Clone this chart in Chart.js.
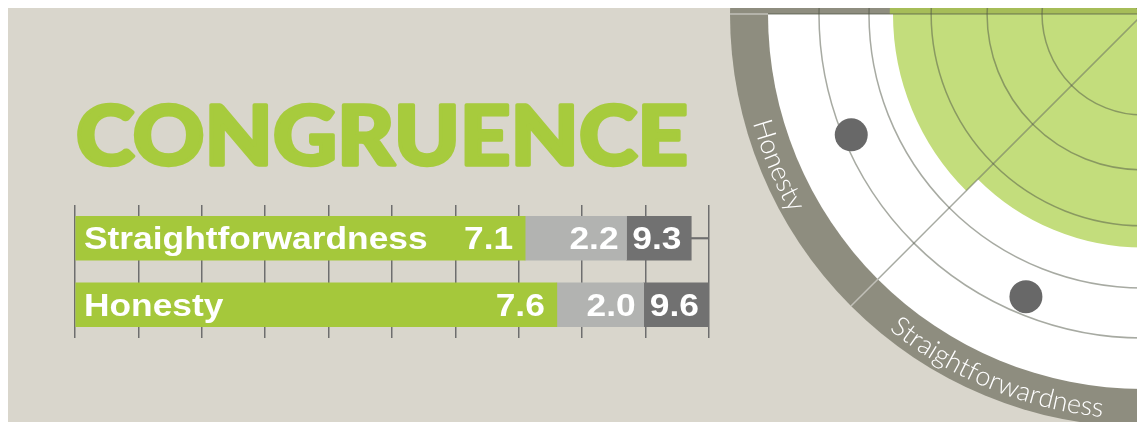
<!DOCTYPE html>
<html><head><meta charset="utf-8">
<script src="https://cdn.jsdelivr.net/npm/chart.js@4.4.1/dist/chart.umd.min.js"></script>
<style>
html,body{margin:0;padding:0;background:#fff;width:1137px;height:422px;overflow:hidden}
#wrap{position:absolute;left:8px;top:8px;width:1129px;height:414px;background:#d9d6cc;overflow:hidden}
#bars{position:absolute;left:0;top:0}
#radar{position:absolute;left:720px;top:-409px}
</style></head><body>
<div id="wrap"><canvas id="bars" width="712" height="414"></canvas><canvas id="radar" width="830" height="830"></canvas></div>
<script>
/* ===== DATA ===== */
const TITLE='CONGRUENCE';
const traits=['Straightforwardness','Honesty'];
const greenScore=[7.1,7.6];
const grayScore=[2.2,2.0];
const totalScore=[9.3,9.6];
// ends of the gray segment and of the dark total box, as drawn on the 0-10 axis
const grayEnd=[8.7,8.97];
const boxEnd=[9.72,10];

const radarLabels=['','','','','Straightforwardness','Honesty','',''];
const radarGreen=[0,0,0,0,7.1,7.6,7.7,0];
const radarDots=[null,null,null,null,9.3,9.6,null,null];
const radarRings=[0,3.07,4.74,6.44,8.33,9.85];

/* ===== STYLE ===== */
const C={title:'#a7cb3d',green:'#a5c83b',lgray:'#b2b3b1',dgray:'#717171',grid:'#6e6e6e',
  ring:'#8e8d7f',radar:'#c3dd7c',radarDark:'#a6bd58',rgrid:'rgba(80,85,70,0.5)',dot:'#686868'};
const RING_W=38;
const LABEL_FONT='bold 31px "Liberation Sans", Arial, sans-serif';
const STRETCH=1.14;

function wideText(ctx,s,px,py,align){
  ctx.save();
  ctx.translate(px,py);ctx.scale(STRETCH,1);
  ctx.textAlign=align;ctx.fillText(s,0,0);
  ctx.restore();
}

/* ===== BAR CHART ===== */
const barLabels={
  id:'barLabels',
  afterDatasetsDraw(chart){
    const {ctx,scales:{x,y}}=chart;
    ctx.save();
    ctx.fillStyle='#fff';ctx.font=LABEL_FONT;ctx.textBaseline='alphabetic';
    traits.forEach((t,i)=>{
      const yc=y.getPixelForValue(i)+11;
      wideText(ctx,t,x.getPixelForValue(0)+9,yc,'left');
      wideText(ctx,greenScore[i].toFixed(1),x.getPixelForValue(greenScore[i])-12,yc,'right');
      wideText(ctx,grayScore[i].toFixed(1),x.getPixelForValue(grayEnd[i])-8,yc,'right');
      wideText(ctx,totalScore[i].toFixed(1),(x.getPixelForValue(grayEnd[i])+x.getPixelForValue(boxEnd[i]))/2-2,yc,'center');
    });
    ctx.restore();
  }
};

const bigTitle={
  id:'bigTitle',
  afterDraw(chart){
    const {ctx,chartArea}=chart;
    ctx.save();
    ctx.font='900 82px Lato, "DejaVu Sans", sans-serif';
    const w=ctx.measureText(TITLE).width;
    ctx.translate(chartArea.left+1,chartArea.top-40);
    ctx.scale(612/w,1);
    ctx.fillStyle=C.title;ctx.strokeStyle=C.title;
    ctx.lineWidth=3.5;ctx.lineJoin='round';
    ctx.fillText(TITLE,0,0);
    ctx.strokeText(TITLE,0,0);
    ctx.restore();
  }
};

new Chart(document.getElementById('bars'),{
  type:'bar',
  data:{
    labels:traits,
    datasets:[
      {data:traits.map((_,i)=>[0,greenScore[i]]),backgroundColor:C.green},
      {data:traits.map((_,i)=>[greenScore[i],grayEnd[i]]),backgroundColor:C.lgray},
      {data:traits.map((_,i)=>[grayEnd[i],boxEnd[i]]),backgroundColor:C.dgray},
      {data:traits.map((_,i)=>[boxEnd[i],10]),backgroundColor:C.grid,barThickness:1.5}
    ]
  },
  options:{
    indexAxis:'y',responsive:false,animation:false,devicePixelRatio:1,
    layout:{padding:{left:67,right:11,top:197,bottom:84}},
    datasets:{bar:{barThickness:44,grouped:false,borderWidth:0}},
    plugins:{legend:{display:false},tooltip:{enabled:false}},
    scales:{
      x:{min:0,max:10,ticks:{display:false,stepSize:1},grid:{color:C.grid,lineWidth:1.5,drawTicks:false},border:{display:false}},
      y:{display:false}
    }
  },
  plugins:[barLabels,bigTitle]
});

/* ===== RADAR (polar area) ===== */
const ringDeco={
  id:'ringDeco',
  beforeDatasetsDraw(chart){
    const r=chart.scales.r, ctx=chart.ctx;
    const R=r.drawingArea, cx=r.xCenter, cy=r.yCenter;
    ctx.save();
    ctx.fillStyle=C.ring;
    ctx.beginPath();ctx.arc(cx,cy,R+RING_W,0,Math.PI*2);ctx.fill();
    ctx.fillStyle='#fff';
    ctx.beginPath();ctx.moveTo(cx,cy);ctx.arc(cx,cy,R,0,Math.PI);ctx.closePath();ctx.fill();
    ctx.restore();
  },
  afterDraw(chart){
    const r=chart.scales.r, ctx=chart.ctx;
    const R=r.drawingArea, cx=r.xCenter, cy=r.yCenter;
    const half=Math.PI/radarLabels.length;
    ctx.save();
    // spokes through the ring
    ctx.strokeStyle='rgba(255,255,255,0.45)';ctx.lineWidth=1.5;
    radarLabels.forEach((_,i)=>{
      const a=r.getIndexAngle(i)-Math.PI/2;
      ctx.beginPath();
      ctx.moveTo(cx+Math.cos(a)*R,cy+Math.sin(a)*R);
      ctx.lineTo(cx+Math.cos(a)*(R+RING_W),cy+Math.sin(a)*(R+RING_W));
      ctx.stroke();
    });
    // curved labels
    ctx.fillStyle='#fff';ctx.font='300 27px Lato, "Open Sans", sans-serif';
    ctx.textAlign='center';ctx.textBaseline='alphabetic';
    const rb=R+30;
    radarLabels.forEach((lab,i)=>{
      if(!lab)return;
      const ac=r.getIndexAngle(i)-Math.PI/2+half;
      const W=ctx.measureText(lab).width;
      let off=0;
      for(const ch of lab){
        const cw=ctx.measureText(ch).width;
        const a=ac+(W/2-off-cw/2)/rb;
        ctx.save();
        ctx.translate(cx+Math.cos(a)*rb,cy+Math.sin(a)*rb);
        ctx.rotate(a-Math.PI/2);
        ctx.fillText(ch,0,0);
        ctx.restore();
        off+=cw;
      }
    });
    // score dots
    ctx.fillStyle=C.dot;
    radarDots.forEach((v,i)=>{
      if(v==null)return;
      const p=r.getPointPosition(i,r.getDistanceFromCenterForValue(v),half);
      ctx.beginPath();ctx.arc(p.x,p.y,16.5,0,Math.PI*2);ctx.fill();
    });
    ctx.restore();
  }
};

new Chart(document.getElementById('radar'),{
  type:'polarArea',
  data:{
    labels:radarLabels,
    datasets:[{
      data:radarGreen,
      backgroundColor:radarGreen.map((_,i)=>i===6?C.radarDark:C.radar),
      borderWidth:0
    }]
  },
  options:{
    responsive:false,animation:false,devicePixelRatio:1,
    layout:{padding:RING_W+2},
    plugins:{legend:{display:false},tooltip:{enabled:false}},
    scales:{
      r:{
        min:0,max:11.4,
        ticks:{display:false,z:1},
        afterBuildTicks:s=>{s.ticks=radarRings.map(v=>({value:v}));},
        grid:{color:C.rgrid,lineWidth:1.5,circular:true,z:1},
        angleLines:{display:true,color:C.rgrid,lineWidth:1.5},
        pointLabels:{display:false}
      }
    }
  },
  plugins:[ringDeco]
});
</script>
</body></html>
